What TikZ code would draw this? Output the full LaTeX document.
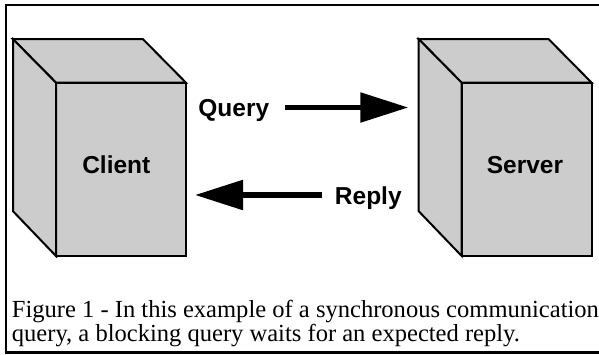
\documentclass[tikz,border=0pt]{standalone}
\usepackage{fontspec}
\setmainfont{Liberation Serif}
\newfontfamily\labelfont{Liberation Sans}
\usetikzlibrary{arrows.meta}

\definecolor{boxgray}{RGB}{204,204,204}

\tikzset{
  frontface/.style={draw=black, fill=boxgray, line width=2pt, line join=miter,
    minimum width=130pt, minimum height=173.3pt, inner sep=0pt, outer sep=0pt},
  sideface/.style={draw=black, fill=boxgray, line width=2pt, line join=miter},
  boxlabel/.style={font=\labelfont\bfseries\fontsize{24.5}{24.5}\selectfont,
    inner sep=0pt, anchor=base},
  bigarrow/.style={line width=5.5pt,
    -{Triangle[length=48pt,width=29pt]}},
  captiontext/.style={font=\fontsize{24.55}{24.4}\selectfont, inner sep=0pt,
    align=left, anchor=base west},
}

\begin{document}
\begin{tikzpicture}[x=1pt, y=-1pt]
  \useasboundingbox (0,0) rectangle (599,354);

  % frame (open on the right)
  \draw[line width=2pt] (599,5) -- (5.5,5) -- (5.5,352.5) -- (599,352.5);
  \draw[line width=2.5pt] (5.5,352.5) -- (599,352.5);

  % client box
  \node[frontface] (client) at (121,169.35) {};
  \draw[sideface] (client.north west) -- ++(-43,-43.5) -- ++(130,0)
    -- (client.north east) -- cycle;
  \draw[sideface] (client.north west) -- ++(-43,-43.5) -- ++(0,172)
    -- (client.south west) -- cycle;
  \node[boxlabel] (clientname) at (116.3,173.3) {Client};

  % server box
  \node[frontface] (server) at (526.7,169.35) {};
  \draw[sideface] (server.north west) -- ++(-43,-43.5) -- ++(130,0)
    -- (server.north east) -- cycle;
  \draw[sideface] (server.north west) -- ++(-43,-43.5) -- ++(0,172)
    -- (server.south west) -- cycle;
  \node[boxlabel] (servername) at (525,173.3) {Server};

  % messages
  \node[boxlabel] (query) at (233.8,116.7) {Query};
  \node[boxlabel] (reply) at (368.3,204.3) {Reply};
  \coordinate (qtail) at (285,107.5);
  \coordinate (qtip) at (408.3,107.5);
  \coordinate (rtail) at (322.3,195);
  \coordinate (rtip) at (195,195);
  \draw[bigarrow] (qtail) -- (qtip);
  \draw[bigarrow] (rtail) -- (rtip);

  % caption (base anchor sits on the last line)
  \node[captiontext] (caption) at (11.7,341.7)
    {Figure 1 - In this example of a synchronous communication\\
     query, a blocking query waits for an expected reply.};
\end{tikzpicture}
\end{document}
